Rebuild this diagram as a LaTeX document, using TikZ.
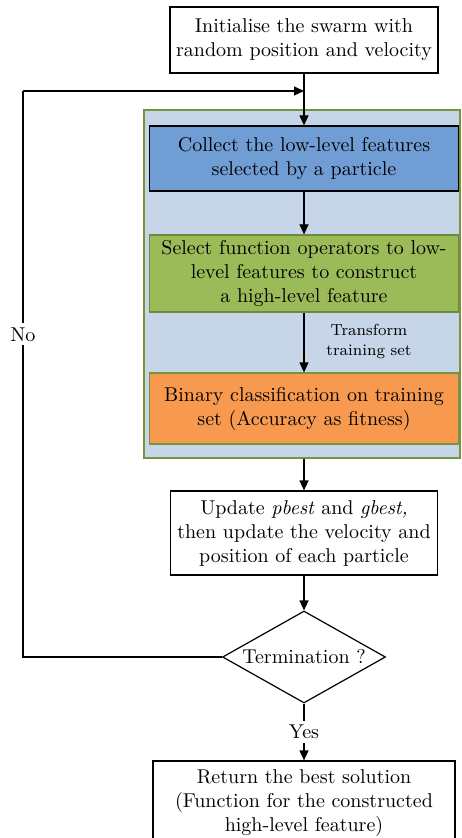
\documentclass[tikz,border=0pt]{standalone}
\usetikzlibrary{shapes.geometric,arrows.meta}

\definecolor{panelblue}{RGB}{198,214,232}
\definecolor{panelgreen}{RGB}{119,147,60}
\definecolor{stepblue}{RGB}{112,157,212}
\definecolor{stepgreen}{RGB}{155,187,89}
\definecolor{stepgreenline}{RGB}{110,139,61}
\definecolor{steporange}{RGB}{247,154,80}

\tikzset{
  flowbox/.style={draw=black,line width=0.6pt,align=center,inner sep=2pt,
    font=\fontsize{10}{12}\selectfont},
  flowline/.style={line width=0.6pt,-{Triangle[length=5pt,width=4.5pt]}},
  smalltext/.style={font=\fontsize{8}{10}\selectfont,align=center}
}

\begin{document}
\begin{tikzpicture}[x=0.5pt,y=-0.5pt]
\useasboundingbox (0,0) rectangle (461,838);

% inner loop over the particles
\node[draw=panelgreen,fill=panelblue,line width=0.6pt,minimum width=158pt,minimum height=174pt,inner sep=0pt] (panel) at (302,284) {};

\node[flowbox,fill=white,minimum width=134pt,minimum height=33pt] (init) at (304,40) {Initialise the swarm with\\random position and velocity};
\node[flowbox,fill=stepblue,minimum width=154.5pt,minimum height=32.5pt] (collect) at (304,158.5) {Collect the low-level features\\selected by a particle};
\node[flowbox,fill=stepgreen,draw=stepgreenline,minimum width=154.5pt,minimum height=38.5pt] (select) at (304,273.5) {Select function operators to low-\\level features to construct\\a high-level feature};
\node[flowbox,fill=steporange,draw=panelgreen,minimum width=154.5pt,minimum height=35.5pt] (binary) at (304,408.5) {Binary classification on training\\set (Accuracy as fitness)};
\node[flowbox,fill=white,minimum width=133.5pt,minimum height=42pt] (update) at (304,533) {Update \textit{pbest} and \textit{gbest,}\\then update the velocity and\\position of each particle};
\node[flowbox,diamond,aspect=1.77,inner sep=0pt,minimum width=81.5pt,minimum height=46pt] (term) at (304,657) {Termination ?};
\node[flowbox,fill=white,minimum width=151pt,minimum height=42pt] (result) at (304,803) {Return the best solution\\(Function for the constructed\\high-level feature)};

\node[smalltext] (transform) at (369,342) {Transform\\training set};

% loop back when not finished
\coordinate (loopbot) at (23,657);
\coordinate (looptop) at (23,91);
\coordinate (join) at (304,91);

\draw[flowline] (init) -- (collect);
\draw[flowline] (collect) -- (select);
\draw[flowline] (select) -- (binary);
\draw[flowline] (panel.south -| update.north) -- (update);
\draw[flowline] (update) -- (term);
\draw[flowline] (term) -- node[fill=white,inner sep=2pt,font=\fontsize{10}{12}\selectfont] (yes) {Yes} (result);
\draw[line width=0.6pt] (term.west) -- (loopbot) -- node[fill=white,inner sep=2pt,font=\fontsize{10}{12}\selectfont,pos=0.57] (no) {No} (looptop);
\draw[flowline] (looptop) -- (join);
\end{tikzpicture}
\end{document}
